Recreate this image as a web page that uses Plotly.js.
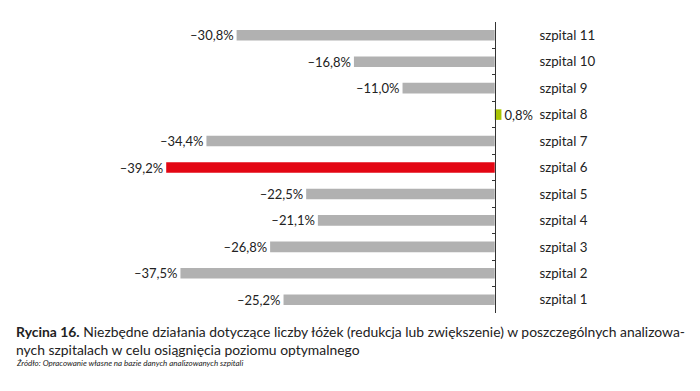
<!DOCTYPE html>
<html><head><meta charset="utf-8">
<script src="https://cdn.plot.ly/plotly-3.0.1.min.js"></script>
<style>html,body{margin:0;padding:0;background:#fff}#c{width:700px;height:391px}</style>
</head><body><div id="c"></div>
<script>
const categories = ["szpital 1","szpital 2","szpital 3","szpital 4","szpital 5","szpital 6","szpital 7","szpital 8","szpital 9","szpital 10","szpital 11"];
const values = [-25.2,-37.5,-26.8,-21.1,-22.5,-39.2,-34.4,0.8,-11.0,-16.8,-30.8];
const valueLabels = ["–25,2%","–37,5%","–26,8%","–21,1%","–22,5%","–39,2%","–34,4%","0,8%","–11,0%","–16,8%","–30,8%"];
const barColors = values.map((v,i)=> categories[i]==="szpital 6" ? "#e30613" : (v>0 ? "#a8c400" : "#b1b1b1"));

const xRange = [-47.1, 6];
const yPos = (0 - xRange[0])/(xRange[1]-xRange[0]);
const font = "Lato, 'Open Sans', sans-serif";

const trace = {
  type: "bar", orientation: "h",
  x: values, y: categories,
  marker: {color: barColors, line: {width: 0}},
  text: valueLabels, textposition: "outside", cliponaxis: false, constraintext: "none",
  textfont: {family: font, size: 13, color: "#222"},
  hoverinfo: "none"
};

const layout = {
  width: 700, height: 391,
  margin: {l: 100, r: 155, t: 22, b: 78},
  paper_bgcolor: "#fff", plot_bgcolor: "#fff",
  bargap: 0.6,
  showlegend: false,
  xaxis: {range: xRange, visible: false, fixedrange: true},
  yaxis: {
    type: "category", anchor: "free", position: yPos, side: "right",
    showline: true, linecolor: "#333", linewidth: 1,
    ticks: "inside", ticklen: 3, tickcolor: "#333", tickson: "boundaries",
    showgrid: false, zeroline: false,
    tickfont: {family: font, size: 13.3, color: "#222"},
    ticklabelstandoff: 41, automargin: false
  },
  annotations: [
    {xref: "paper", yref: "paper", x: (14-100)/445, y: (313-321)/291, xanchor: "left", yanchor: "top", align: "left",
     showarrow: false, font: {family: font, size: 13.9, color: "#222"},
     text: "<b>Rycina 16.</b> Niezbędne działania dotyczące liczby łóżek (redukcja lub zwiększenie) w poszczególnych analizowa-<br>nych szpitalach w celu osiągnięcia poziomu optymalnego"},
    {xref: "paper", yref: "paper", x: (14-100)/445, y: (313-356)/291, xanchor: "left", yanchor: "top", align: "left",
     showarrow: false, font: {family: font, size: 8, color: "#222"},
     text: "<i>Źródło: Opracowanie własne na bazie danych analizowanych szpitali</i>"}
  ]
};
Plotly.newPlot("c", [trace], layout, {displayModeBar: false, staticPlot: true});
</script></body></html>
